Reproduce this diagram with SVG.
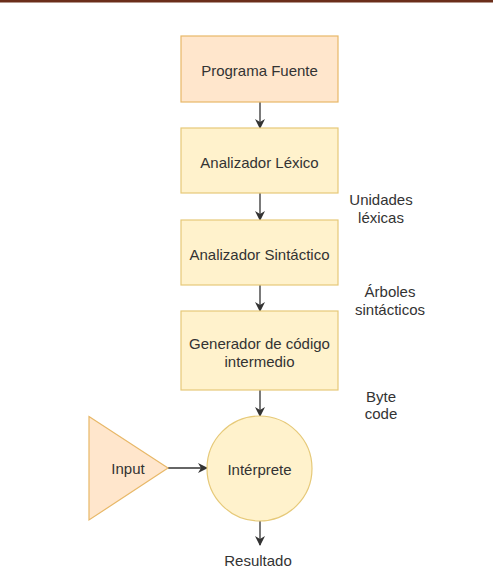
<svg xmlns="http://www.w3.org/2000/svg" width="493" height="586" viewBox="0 0 493 586">
<style>
text{font-family:"Liberation Sans",Arial,sans-serif;font-size:15px;fill:#333;text-anchor:middle;dominant-baseline:central}
.y{fill:#fff2cc;stroke:#e6c978;stroke-width:1.2}
.o{fill:#ffe6cc;stroke:#e8b868;stroke-width:1.2}
.c{stroke:#333;stroke-width:1.3;fill:none;marker-end:url(#a)}
</style>
<defs>
<marker id="a" viewBox="0 0 10 10" refX="9" refY="5" markerWidth="10" markerHeight="10" markerUnits="userSpaceOnUse" orient="auto">
<path d="M0,0 L10,5 L0,10 L3,5 Z" fill="#333"/>
</marker>
</defs>
<rect x="0" y="0" width="493" height="586" fill="#fff"/>
<rect x="0" y="0" width="493" height="2.5" fill="#6b2e1a"/>
<g id="connectors">
<line class="c" x1="260" y1="102" x2="260" y2="128"/>
<line class="c" x1="260" y1="193" x2="260" y2="220"/>
<line class="c" x1="260" y1="285" x2="260" y2="311"/>
<line class="c" x1="260" y1="390" x2="260" y2="416"/>
<line class="c" x1="168" y1="468" x2="207" y2="468"/>
<line class="c" x1="260" y1="521" x2="260" y2="545"/>
</g>
<g id="programa">
<rect class="o" x="181" y="36" width="157" height="66"/>
<text x="259.5" y="70">Programa Fuente</text>
</g>
<g id="lexico">
<rect class="y" x="181" y="128" width="157" height="65"/>
<text x="259.5" y="162">Analizador Léxico</text>
</g>
<g id="sintactico">
<rect class="y" x="181" y="220" width="157" height="65"/>
<text x="259.5" y="254">Analizador Sintáctico</text>
</g>
<g id="generador">
<rect class="y" x="181" y="311" width="157" height="79"/>
<text x="259.5" y="343">Generador de código</text>
<text x="259.5" y="361">intermedio</text>
</g>
<g id="interprete">
<circle class="y" cx="259.5" cy="468.5" r="52.5"/>
<text x="259.5" y="469">Intérprete</text>
</g>
<g id="input">
<polygon class="o" points="89,416.5 168,468 89,520"/>
<text x="128" y="468">Input</text>
</g>
<g id="labels">
<text x="381" y="199">Unidades</text>
<text x="381" y="217">léxicas</text>
<text x="390" y="291">Árboles</text>
<text x="390" y="309">sintácticos</text>
<text x="381" y="396">Byte</text>
<text x="381" y="413">code</text>
<text x="258" y="560">Resultado</text>
</g>
</svg>
